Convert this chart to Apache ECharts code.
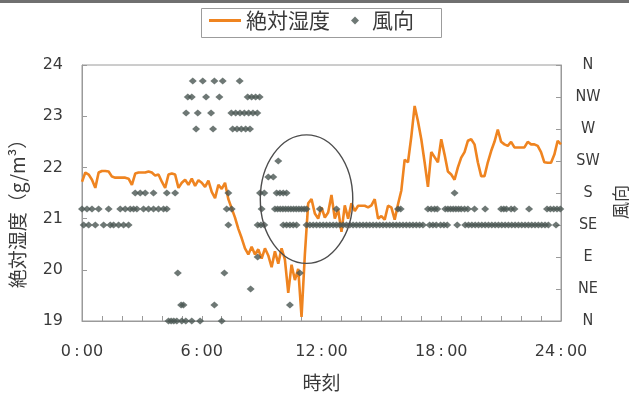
<!DOCTYPE html>
<html>
<head>
<meta charset="utf-8">
<script src="https://cdn.jsdelivr.net/npm/echarts@6/dist/echarts.min.js"></script>
<style>
  html, body { margin: 0; padding: 0; background: #ffffff; }
  #chart { width: 629px; height: 399px; }
</style>
</head>
<body>
<div id="chart"></div>
<script>
// Absolute humidity (g/m³), one reading every 10 minutes from 0:00 to 24:00
const humidityStepMin = 10;
const humidity = [
  21.72, 21.90, 21.86, 21.76, 21.60, 21.90, 21.93, 21.93, 21.92, 21.82, 21.80, 21.80,
  21.80, 21.80, 21.78, 21.66, 21.88, 21.90, 21.90, 21.90, 21.92, 21.90, 21.84, 21.86,
  21.72, 21.60, 21.86, 21.88, 21.86, 21.60, 21.70, 21.76, 21.66, 21.78, 21.64, 21.75,
  21.70, 21.62, 21.74, 21.52, 21.40, 21.66, 21.58, 21.70, 21.38, 21.20, 21.02, 20.80,
  20.62, 20.42, 20.30, 20.45, 20.30, 20.40, 20.22, 20.42, 20.28, 20.05, 20.36, 20.12,
  20.42, 20.20, 19.55, 20.10, 19.80, 20.02, 19.08, 20.30, 21.30, 21.38, 21.10, 21.00,
  21.22, 21.02, 21.12, 21.46, 21.00, 21.18, 20.74, 21.26, 21.00, 21.30, 21.15, 21.25,
  21.25, 21.25, 21.22, 21.26, 21.38, 21.00, 21.05, 20.98, 21.25, 21.22, 20.98, 21.28,
  21.55, 22.15, 22.10, 22.60, 23.20, 22.90, 22.55, 22.10, 21.62, 22.30, 22.20, 22.10,
  22.55, 22.25, 21.92, 21.86, 21.76, 22.00, 22.19, 22.30, 22.52, 22.55, 22.45, 22.10,
  21.83, 21.83, 22.10, 22.32, 22.50, 22.74, 22.50, 22.45, 22.42, 22.50, 22.39, 22.39,
  22.39, 22.39, 22.50, 22.45, 22.45, 22.42, 22.30, 22.10, 22.09, 22.09, 22.25, 22.52,
  22.45
];

// Wind direction: minutes past midnight at which each direction was recorded
const windN   = [260, 268, 276, 285, 300, 312, 330, 355, 420];
const windNNE = [298, 305, 398, 625];
const windNE  = [507];
const windENE = [288, 428, 655];
const windE   = [528];
const windSE  = [5, 20, 40, 65, 85, 95, 110, 125, 140, 440, 528, 538, 548,
  605, 615, 625, 635, 645, 675, 685, 695, 705, 715, 725, 735, 745, 755, 765,
  775, 785, 795, 805, 815, 825, 835, 845, 855, 865, 875, 885, 895, 905, 915,
  925, 935, 945, 955, 965, 975, 985, 995, 1005, 1015, 1025, 1045, 1055, 1065,
  1078, 1088, 1098, 1128, 1152, 1162, 1172, 1182, 1192, 1202, 1212, 1222, 1232,
  1242, 1252, 1262, 1272, 1282, 1292, 1302, 1312, 1322, 1332, 1342, 1352, 1362,
  1372, 1382, 1392, 1402, 1425];
const windSSE = [0, 15, 30, 50, 80, 115, 130, 145, 155, 165, 185, 200, 215, 230,
  245, 255, 435, 450, 540, 580, 588, 596, 604, 612, 620, 628, 636, 644, 652,
  660, 668, 675, 715, 765, 950, 958, 1040, 1050, 1060, 1068, 1092, 1100, 1108,
  1116, 1124, 1132, 1140, 1150, 1160, 1180, 1212, 1260, 1268, 1276, 1290, 1300,
  1344, 1398, 1408, 1418, 1428, 1438];
const windS   = [160, 175, 190, 215, 255, 280, 440, 535, 548, 585, 595, 605, 615, 1120];
const windSSW = [560, 575];
const windSW  = [590];
const windW   = [343, 394, 453, 466, 479, 492, 505];
const windWNW = [313, 348, 388, 449, 462, 475, 488, 501, 514, 527];
const windNW  = [318, 330, 373, 413, 498, 510, 522, 534];
const windNNW = [333, 363, 398, 423, 474];

// Axis labels
const timeLabels = ['0:00', '6:00', '12:00', '18:00', '24:00'];
const compassLabels = ['N', 'NE', 'E', 'SE', 'S', 'SW', 'W', 'NW', 'N'];

// Circled period of interest (time in minutes, humidity in g/m³)
const ringCenter = [675, 21.38];
const ringRadius = [139, 1.255];

const humidityData = humidity.map((v, i) => [i * humidityStepMin, v]);
const windRows = [
  [0, windN], [22.5, windNNE], [45, windNE], [67.5, windENE], [90, windE],
  [135, windSE], [157.5, windSSE], [180, windS], [202.5, windSSW], [225, windSW],
  [270, windW], [292.5, windWNW], [315, windNW], [337.5, windNNW]
];
const windData = windRows.flatMap(([deg, times]) => times.map(t => [t, deg]));

const axisGray = '#9a9a9a';
const textGray = '#3a3a3a';
const cjkFont = '"Noto Sans CJK JP", sans-serif';
const lineOrange = '#ef8420';
const dotGray = '#4a5652';

const chart = echarts.init(document.getElementById('chart'), null, { renderer: 'canvas' });

const legendText = { fontFamily: cjkFont, fontSize: 21, color: textGray };

chart.setOption({
  animation: false,
  backgroundColor: '#ffffff',
  grid: {
    left: 82, top: 65, width: 479, height: 256,
    show: true, borderColor: axisGray, borderWidth: 1, backgroundColor: 'transparent'
  },
  legend: [
    {
      top: 10, left: 209, padding: 0,
      itemWidth: 32, itemHeight: 3, icon: 'rect',
      textStyle: legendText,
      data: ['絶対湿度']
    },
    {
      top: 10, left: 351, padding: 0,
      itemWidth: 8, itemHeight: 8, icon: 'diamond',
      textStyle: Object.assign({ padding: [0, 0, 0, 8] }, legendText),
      data: ['風向']
    }
  ],
  xAxis: {
    type: 'value',
    min: 0, max: 1440, interval: 360,
    axisLine: { show: true, lineStyle: { color: axisGray } },
    axisTick: { show: true, inside: true, length: 5, lineStyle: { color: axisGray } },
    minorTick: { show: true, splitNumber: 6, length: 5, lineStyle: { color: axisGray } },
    splitLine: { show: false },
    axisLabel: {
      margin: 23,
      fontFamily: '"DejaVu Sans", sans-serif',
      fontSize: 16,
      color: textGray,
      formatter: v => timeLabels[Math.round(v / 360)].replace(':', '\u2009:\u2009')
    },
    name: '時刻',
    nameLocation: 'middle',
    nameGap: 52,
    nameTextStyle: { fontFamily: cjkFont, fontSize: 19, color: textGray }
  },
  yAxis: [
    {
      type: 'value',
      min: 19, max: 24, interval: 1,
      axisLine: { show: true, lineStyle: { color: axisGray } },
      axisTick: { show: true, inside: true, length: 5, lineStyle: { color: axisGray } },
      splitLine: { show: false },
      axisLabel: {
        margin: 19,
        fontFamily: '"DejaVu Sans", sans-serif',
        fontSize: 16,
        color: textGray
      }
    },
    {
      type: 'value',
      position: 'right',
      min: 0, max: 360, interval: 45,
      axisLine: { show: true, lineStyle: { color: axisGray } },
      axisTick: { show: true, inside: true, length: 5, lineStyle: { color: axisGray } },
      splitLine: { show: false },
      axisLabel: {
        margin: 27,
        align: 'center',
        fontFamily: '"Liberation Sans Narrow", "DejaVu Sans Condensed", "Arial Narrow", sans-serif',
        fontSize: 16,
        color: textGray,
        formatter: v => compassLabels[Math.round(v / 45)]
      }
    }
  ],
  series: [
    {
      name: '絶対湿度',
      type: 'line',
      xAxisIndex: 0, yAxisIndex: 0,
      data: humidityData,
      showSymbol: false,
      symbol: 'none',
      lineStyle: { color: lineOrange, width: 2.6 },
      itemStyle: { color: lineOrange },
      z: 2
    },
    {
      name: '風向',
      type: 'scatter',
      xAxisIndex: 0, yAxisIndex: 1,
      data: windData,
      symbol: 'diamond',
      symbolSize: [8, 7],
      itemStyle: { color: dotGray },
      z: 3
    }
  ]
});

// Legend frame, axis titles for the two vertical axes, the circled period and the page edge
const c0 = chart.convertToPixel({ xAxisIndex: 0, yAxisIndex: 0 }, ringCenter);
const c1 = chart.convertToPixel({ xAxisIndex: 0, yAxisIndex: 0 },
  [ringCenter[0] + ringRadius[0], ringCenter[1] + ringRadius[1]]);

chart.setOption({
  graphic: [
    {
      type: 'rect', id: 'edge', silent: true,
      shape: { x: 0, y: 0, width: 629, height: 3 },
      style: { fill: '#707070' }
    },
    {
      type: 'rect', id: 'legendFrame', silent: true,
      shape: { x: 201.5, y: 8.5, width: 240, height: 29 },
      style: { fill: null, stroke: '#9c9c9c', lineWidth: 1 }
    },
    {
      type: 'ellipse', id: 'ring', silent: true, z: 10,
      shape: { cx: c0[0], cy: c0[1], rx: Math.abs(c1[0] - c0[0]), ry: Math.abs(c1[1] - c0[1]) },
      style: { fill: null, stroke: '#4d4d4d', lineWidth: 1.4 }
    },
    {
      type: 'text', id: 'yname', silent: true,
      x: 18, y: 209, rotation: Math.PI / 2,
      style: {
        text: '絶対湿度（g/m³）', fontFamily: cjkFont, fontSize: 19,
        fill: textGray, align: 'center', verticalAlign: 'middle'
      }
    },
    {
      type: 'text', id: 'y2name', silent: true,
      x: 621, y: 202, rotation: Math.PI / 2,
      style: {
        text: '風向', fontFamily: cjkFont, fontSize: 17,
        fill: textGray, align: 'center', verticalAlign: 'middle'
      }
    }
  ]
});
</script>
</body>
</html>
